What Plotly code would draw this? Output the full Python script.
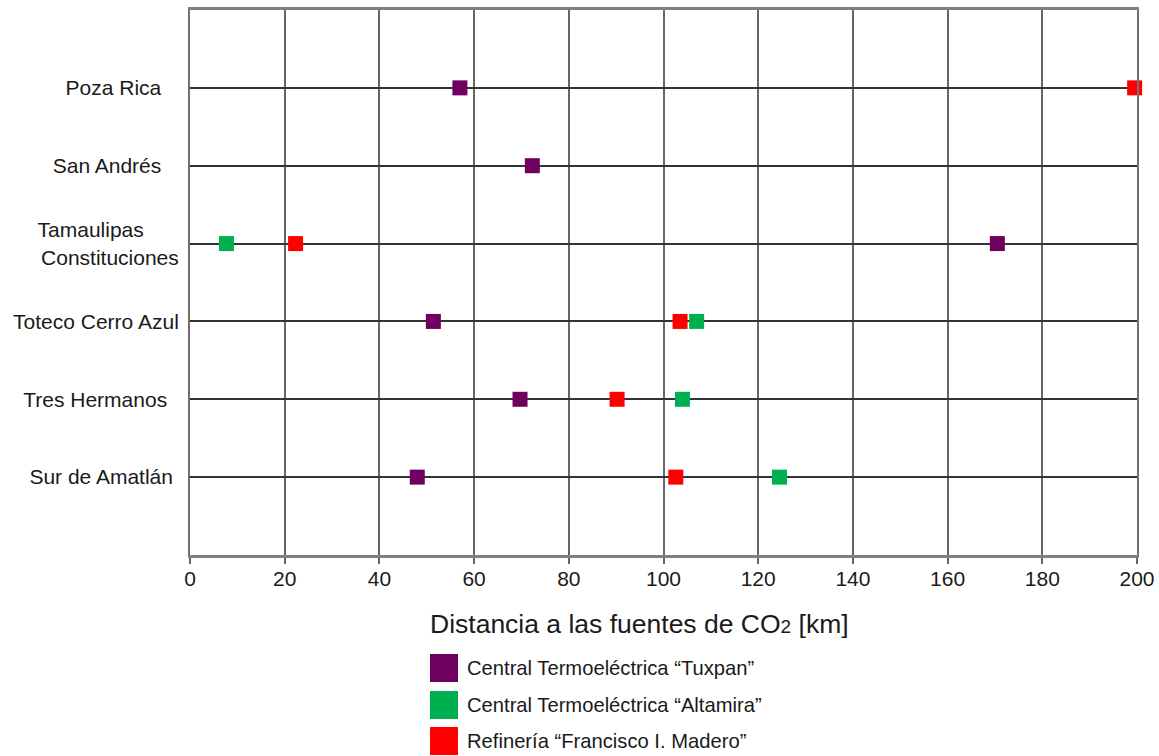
import plotly.graph_objects as go

categories = ["Sur de Amatlán", "Tres Hermanos", "Toteco Cerro Azul",
              "Tamaulipas Constituciones", "San Andrés", "Poza Rica"]
tick_labels = ["Sur de Amatlán\u00a0", "Tres Hermanos\u00a0\u00a0", "Toteco Cerro Azul",
               "Tamaulipas" + "\u00a0" * 6 + "<br>Constituciones",
               "San Andrés\u00a0\u00a0\u00a0", "Poza Rica\u00a0\u00a0\u00a0"]

tuxpan_cats = ["Poza Rica", "San Andrés", "Tamaulipas Constituciones",
               "Toteco Cerro Azul", "Tres Hermanos", "Sur de Amatlán"]
tuxpan_km = [57, 72.3, 170.5, 51.4, 69.7, 48.0]

altamira_cats = ["Tamaulipas Constituciones", "Toteco Cerro Azul", "Tres Hermanos", "Sur de Amatlán"]
altamira_km = [7.7, 107.0, 104.0, 124.5]

madero_cats = ["Poza Rica", "Tamaulipas Constituciones", "Toteco Cerro Azul", "Tres Hermanos", "Sur de Amatlán"]
madero_km = [199.5, 22.3, 103.5, 90.2, 102.6]

series_names = ["Central Termoeléctrica “Tuxpan”",
                "Central Termoeléctrica “Altamira”",
                "Refinería “Francisco I. Madero”"]
colors = ["#700060", "#00B050", "#FF0000"]

x_ticks = [0, 20, 40, 60, 80, 100, 120, 140, 160, 180, 200]

FONT = "Liberation Sans, Arial, sans-serif"
TXT = "#1a1a1a"

W, H = 1159, 756
ML, MR, MT, MB = 190, 22, 10, 201
plot_w = W - ML - MR
plot_h = H - MT - MB

fig = go.Figure()
for name, xs, ys, c in [(series_names[0], tuxpan_km, tuxpan_cats, colors[0]),
                        (series_names[1], altamira_km, altamira_cats, colors[1]),
                        (series_names[2], madero_km, madero_cats, colors[2])]:
    fig.add_trace(go.Scatter(x=xs, y=ys, mode="markers", name=name, showlegend=False,
                             cliponaxis=False, hoverinfo="skip",
                             marker=dict(symbol="square", size=15, color=c, line=dict(width=0))))

fig.update_layout(
    width=W, height=H, autosize=False,
    margin=dict(l=ML, r=MR, t=MT, b=MB, pad=0),
    paper_bgcolor="white", plot_bgcolor="white",
    font=dict(family=FONT, size=21, color=TXT),
    showlegend=False,
    xaxis=dict(range=[0, 200], tickvals=x_ticks, ticktext=[str(v) for v in x_ticks],
               automargin=False,
               showgrid=True, gridcolor="#666666", gridwidth=2,
               showline=True, linecolor="#808080", linewidth=3, mirror=True,
               ticks="outside", ticklen=6, tickcolor="#666666", tickwidth=2,
               ticklabelstandoff=-3, zeroline=False,
               tickfont=dict(size=21, color=TXT)),
    yaxis=dict(type="category", categoryorder="array", categoryarray=categories,
               tickvals=categories, ticktext=tick_labels, automargin=False,
               range=[-1, 6], showgrid=True, gridcolor="#333333", gridwidth=1.5,
               showline=True, linecolor="#707070", linewidth=2, mirror=True,
               ticks="", ticklabelstandoff=5, zeroline=False,
               tickfont=dict(size=21, color=TXT)),
)

def px_x(sx):
    return (sx - ML) / plot_w

def px_y(sy):
    return (H - MB - sy) / plot_h

fig.add_annotation(text="Distancia a las fuentes de CO<span style='font-size:19px'>2</span> [km]",
                   xref="paper", yref="paper", x=px_x(639), y=px_y(624),
                   xanchor="center", yanchor="middle", showarrow=False,
                   font=dict(size=26.5, color=TXT, family=FONT))

# legend drawn manually
legend_rows_px = [668, 705, 741]
for name, c, py in zip(series_names, colors, legend_rows_px):
    yc = px_y(py)
    half = 14 / plot_h
    fig.add_shape(type="rect", xref="paper", yref="paper",
                  x0=px_x(430), x1=px_x(458),
                  y0=yc - half, y1=yc + half,
                  fillcolor=c, line=dict(width=0))
    fig.add_annotation(text=name, xref="paper", yref="paper",
                       x=px_x(465), y=yc, xanchor="left", yanchor="middle",
                       showarrow=False, font=dict(size=20.2, color=TXT, family=FONT))

fig.write_html("out.html",
               config={"responsive": False, "displayModeBar": False},
               post_script="document.body.style.margin='0';document.body.style.overflow='hidden';")
